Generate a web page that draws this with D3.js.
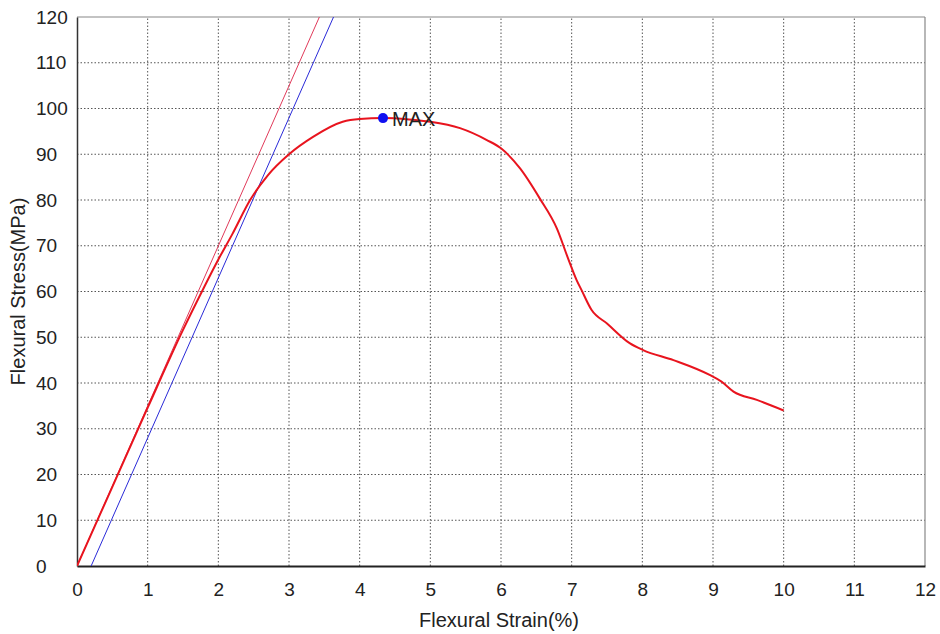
<!DOCTYPE html>
<html>
<head>
<meta charset="utf-8">
<script src="https://cdn.jsdelivr.net/npm/d3@7"></script>
<style>
  body { margin: 0; background: #fff; }
  text { font-family: Arial, "Liberation Sans", sans-serif; fill: #222; }
</style>
</head>
<body>
<svg id="chart" width="940" height="634"></svg>
<script>
/* Flexural stress-strain curve with tangent and 0.2% offset lines */

const xTicks = [0, 1, 2, 3, 4, 5, 6, 7, 8, 9, 10, 11, 12];
const yTicks = [0, 10, 20, 30, 40, 50, 60, 70, 80, 90, 100, 110, 120];

// main curve
const strain = [0, 0.5, 1, 1.5, 1.8, 2.0, 2.2, 2.45, 2.7, 3.0, 3.34, 3.76, 4.0, 4.33,
  4.7, 5.0, 5.42, 5.8, 6.0, 6.27, 6.55, 6.79, 6.95, 7.07, 7.14, 7.28, 7.5, 7.82,
  8.01, 8.44, 8.96, 9.12, 9.29, 9.62, 10.0];
const stress = [0, 17.3, 34.6, 51.6, 61, 67, 72.6, 80, 85.4, 90, 93.8, 97.1, 97.7, 97.9,
  97.6, 97.1, 95.7, 93.1, 91.3, 86.9, 80.3, 73.8, 67.2, 62.5, 60.3, 56.0, 53.0, 48.7,
  47.2, 45.0, 41.7, 40.3, 38.1, 36.3, 34.0];

// tangent (modulus) line and the 0.2 % offset line
const tangentX = [0, 3.43];
const tangentY = [0, 120];
const offsetX = [0.2, 3.63];
const offsetY = [0, 120];

const maxStrain = 4.33, maxStress = 97.9;

const W = 940, H = 634;
const m = { left: 77, top: 17, right: 15, bottom: 68 };
const svg = d3.select("#chart");

const x = d3.scaleLinear().domain([0, 12]).range([m.left, W - m.right]);
const y = d3.scaleLinear().domain([0, 120]).range([H - m.bottom, m.top]);

// grid
const g = svg.append("g");
g.selectAll("line.gx").data(xTicks.slice(1, -1)).join("line")
  .attr("x1", d => x(d)).attr("x2", d => x(d))
  .attr("y1", y(0)).attr("y2", y(120))
  .attr("stroke", "#555").attr("stroke-width", 1).attr("stroke-dasharray", "1.5,2");
g.selectAll("line.gy").data(yTicks.slice(1, -1)).join("line")
  .attr("y1", d => y(d)).attr("y2", d => y(d))
  .attr("x1", x(0)).attr("x2", x(12))
  .attr("stroke", "#555").attr("stroke-width", 1).attr("stroke-dasharray", "1.5,2");

// frame
svg.append("line").attr("x1", x(0)).attr("x2", x(12)).attr("y1", y(120)).attr("y2", y(120))
  .attr("stroke", "#888").attr("stroke-width", 1.2);
svg.append("line").attr("x1", x(12)).attr("x2", x(12)).attr("y1", y(0)).attr("y2", y(120))
  .attr("stroke", "#888").attr("stroke-width", 1.2);

// axes
const xAxis = svg.append("g").attr("transform", `translate(0,${y(0)})`)
  .call(d3.axisBottom(x).tickValues(xTicks).tickSize(0).tickPadding(17));
const yAxis = svg.append("g").attr("transform", `translate(${x(0)},0)`)
  .call(d3.axisLeft(y).tickValues(yTicks).tickSize(0));
xAxis.select(".domain").attr("stroke", "#222").attr("stroke-width", 2);
yAxis.select(".domain").attr("stroke", "#333").attr("stroke-width", 1.5);
[xAxis, yAxis].forEach(a => a.selectAll("text").style("font-size", "19px").attr("fill", "#222"));
// y labels in the original are left aligned
yAxis.selectAll("text").attr("text-anchor", "start").attr("x", 36 - x(0));

const line = d3.line().x(d => x(d[0])).y(d => y(d[1]));
svg.append("clipPath").attr("id", "plot")
  .append("rect").attr("x", x(0)).attr("y", y(120))
  .attr("width", x(12) - x(0)).attr("height", y(0) - y(120));

const lines = svg.append("g").attr("clip-path", "url(#plot)");
lines.append("path").datum(offsetX.map((v, i) => [v, offsetY[i]]))
  .attr("d", line).attr("fill", "none").attr("stroke", "#2a2ad8").attr("stroke-width", 1);
lines.append("path").datum(tangentX.map((v, i) => [v, tangentY[i]]))
  .attr("d", line).attr("fill", "none").attr("stroke", "#e03a5a").attr("stroke-width", 1);
lines.append("path").datum(strain.map((v, i) => [v, stress[i]]))
  .attr("d", line.curve(d3.curveMonotoneX)).attr("fill", "none")
  .attr("stroke", "#e8141e").attr("stroke-width", 2);

// MAX marker
svg.append("circle").attr("cx", x(maxStrain)).attr("cy", y(maxStress)).attr("r", 5)
  .attr("fill", "#1010f0");
svg.append("text").attr("x", x(maxStrain) + 9).attr("y", y(maxStress) + 8)
  .style("font-size", "20px").text("MAX");

// axis titles
svg.append("text").attr("x", 499).attr("y", 627)
  .attr("text-anchor", "middle").style("font-size", "20px").text("Flexural Strain(%)");
svg.append("text").attr("transform", `translate(25,${(y(0) + y(120)) / 2}) rotate(-90)`)
  .attr("text-anchor", "middle").style("font-size", "20px").text("Flexural Stress(MPa)");
</script>
</body>
</html>
